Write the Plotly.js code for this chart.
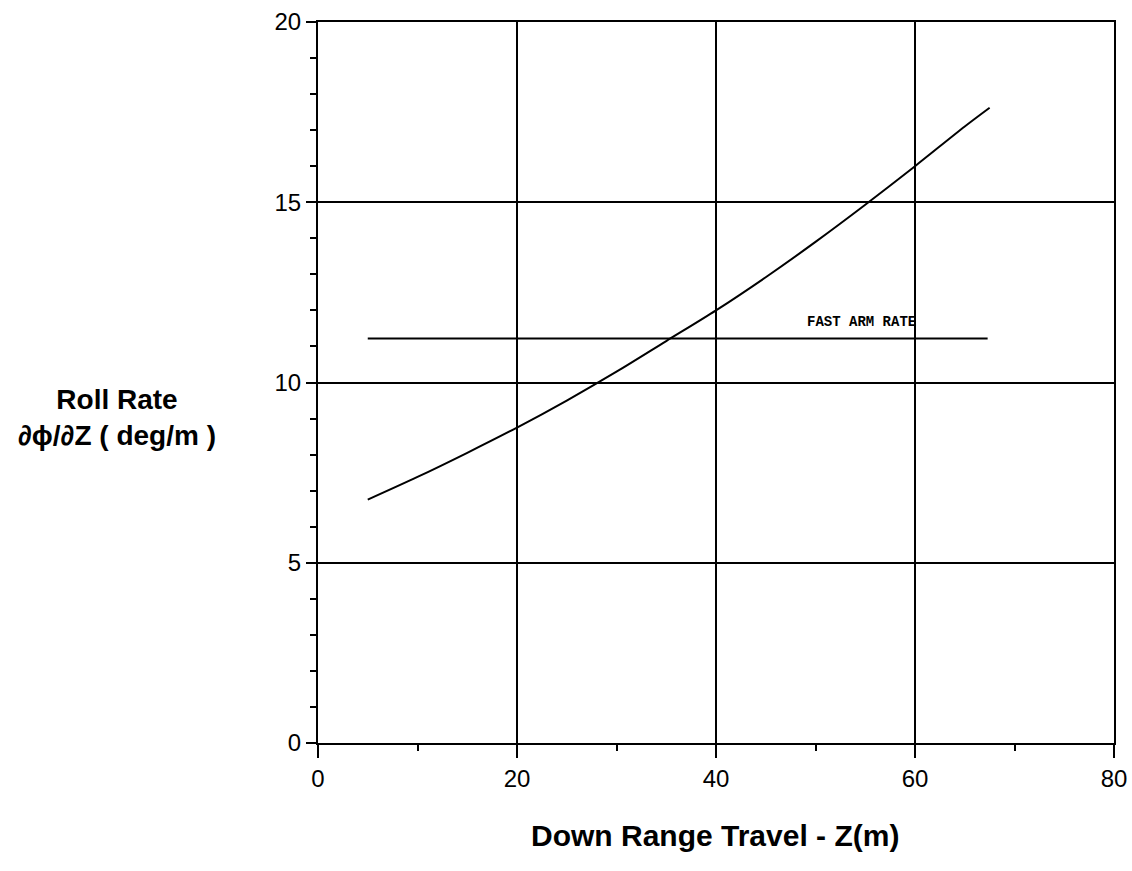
<!DOCTYPE html>
<html>
<head>
<meta charset="utf-8">
<script src="https://cdn.plot.ly/plotly-3.0.1.min.js"></script>
<style>html,body{margin:0;padding:0;background:#fff;}#chart{width:1132px;height:871px;}</style>
</head>
<body>
<div id="chart"></div>
<script>
// Roll rate curve
const rollX = [5, 10, 15, 20, 25, 30, 35, 40, 45, 50, 55, 60, 65, 67.5];
const rollY = [6.75, 7.38, 8.05, 8.75, 9.5, 10.3, 11.15, 12.0, 12.92, 13.9, 14.93, 16.0, 17.1, 17.62];
// Fast arm rate reference line
const fastX = [5, 67.3];
const fastY = [11.22, 11.22];
const fastLabel = "FAST ARM RATE";
const xTitle = "Down Range Travel - Z(m)";
const yTitle = "Roll Rate<br>∂ϕ/∂Z ( deg/m )";

const traces = [
  {x: rollX, y: rollY, mode: 'lines', line: {color: '#000', width: 2, shape: 'spline', smoothing: 0.8}, hoverinfo: 'skip'},
  {x: fastX, y: fastY, mode: 'lines', line: {color: '#000', width: 2}, hoverinfo: 'skip'}
];

const axisCommon = {
  showline: true, mirror: true, linecolor: '#000', linewidth: 2,
  showgrid: true, gridcolor: '#000', gridwidth: 2,
  zeroline: false, ticks: 'outside', tickcolor: '#000', tickwidth: 2,
  tickfont: {family: 'Liberation Sans, Arial, sans-serif', size: 24, color: '#000'}
};

const layout = {
  width: 1132, height: 871,
  margin: {l: 318, r: 18, t: 22, b: 128},
  paper_bgcolor: '#fff', plot_bgcolor: '#fff',
  showlegend: false,
  xaxis: Object.assign({}, axisCommon, {
    range: [0, 80], dtick: 20, tick0: 0, ticklen: 13,
    minor: {dtick: 10, ticks: 'outside', ticklen: 6, tickcolor: '#000', tickwidth: 2, showgrid: false}
  }),
  yaxis: Object.assign({}, axisCommon, {
    range: [0, 20], dtick: 5, tick0: 0, ticklen: 10,
    minor: {dtick: 1, ticks: 'outside', ticklen: 6, tickcolor: '#000', tickwidth: 2, showgrid: false}
  }),
  annotations: [
    {x: 54.6, y: 11.67, xref: 'x', yref: 'y', text: fastLabel, showarrow: false,
     font: {family: 'Liberation Mono, Courier New, monospace', size: 14, color: '#000', weight: 'bold'}},
    {x: 0.499, y: -0.128, xref: 'paper', yref: 'paper', text: '<b>' + xTitle + '</b>', showarrow: false,
     xanchor: 'center', yanchor: 'middle',
     font: {family: 'Liberation Sans Narrow, Arial Narrow, Liberation Sans, sans-serif', size: 30, color: '#000'}},
    {x: -0.253, y: 0.452, xref: 'paper', yref: 'paper', text: '<b>' + yTitle + '</b>', showarrow: false,
     xanchor: 'center', yanchor: 'middle', align: 'center',
     font: {family: 'Liberation Sans Narrow, Arial Narrow, Liberation Sans, sans-serif', size: 28, color: '#000'}}
  ]
};

Plotly.newPlot('chart', traces, layout, {displayModeBar: false, staticPlot: true});
</script>
</body>
</html>
